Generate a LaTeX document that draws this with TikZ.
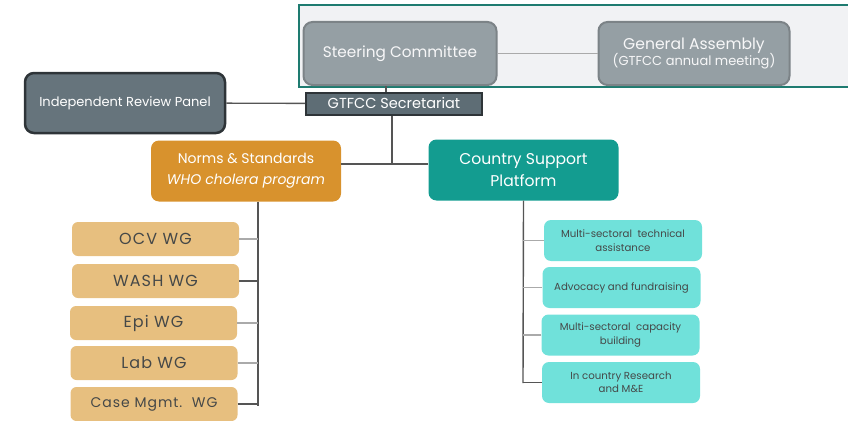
\documentclass[tikz,border=0pt]{standalone}
\usepackage{fontspec}
\setmainfont{Poppins}
\newfontfamily\wgfont[LetterSpace=7]{Poppins}
\definecolor{frameteal}{HTML}{1E7B70}
\definecolor{framebg}{HTML}{F1F2F4}
\definecolor{steergray}{HTML}{959FA4}
\definecolor{steerline}{HTML}{7C8387}
\definecolor{secgray}{HTML}{5E6D75}
\definecolor{darkline}{HTML}{2E3438}
\definecolor{normsorange}{HTML}{D8922D}
\definecolor{cspteal}{HTML}{139C90}
\definecolor{wgtan}{HTML}{E7BF7F}
\definecolor{cspaqua}{HTML}{70E1DA}
\definecolor{textgray}{HTML}{454848}
\definecolor{linkgray}{HTML}{555555}
\definecolor{lightlink}{HTML}{AAAAAA}
\tikzset{
    board/.style={draw=steerline, line width=2pt, fill=steergray, rounded corners=9pt,
        text=white!92!steergray, align=center, minimum height=63pt},
    secbox/.style={draw=darkline, line width=2pt, fill=secgray, text=white,
        minimum width=176pt, minimum height=22pt, inner sep=0pt},
    panel/.style={draw=darkline, line width=2.5pt, fill=secgray!95!white, rounded corners=9pt,
        text=white, minimum width=200pt, minimum height=60pt},
    branch/.style={rounded corners=8pt, text=white, align=center, minimum width=190pt, minimum height=61pt},
    wg/.style={fill=wgtan, rounded corners=6pt, text=textgray, minimum width=167pt, minimum height=34pt, inner sep=0pt},
    task/.style={fill=cspaqua, rounded corners=7pt, text=textgray, align=center, font=\fontsize{10.2}{13.5}\selectfont,
        minimum width=158pt, minimum height=41pt, inner sep=0pt},
    link/.style={draw=linkgray, line width=1.4pt},
    faint/.style={draw=lightlink, line width=1.4pt}
}
\begin{document}
\begin{tikzpicture}[x=1pt, y=-1pt]
    \useasboundingbox (0, 0) rectangle (848, 420);
    \fill[framebg] (299, 5) rectangle (860, 87);
    \draw[frameteal, line width=2pt] (860, 5) -- (299, 5) -- (299, 87) -- (860, 87);

    \draw (400, 53.5) node[board, minimum width=193pt, font=\fontsize{15.3}{17}\selectfont] (steer) {\raisebox{-2pt}{Steering Committee}};
    \draw (694, 53.5) node[board, minimum width=191pt] (assembly) {{\fontsize{15.6}{17}\selectfont General Assembly}\\[-1pt]{\fontsize{13}{15}\selectfont (GTFCC annual meeting)}};
    \draw (394, 103.5) node[secbox, font=\fontsize{14.5}{15}\selectfont] (sec) {GTFCC Secretariat};
    \draw (125, 103) node[panel, font=\fontsize{13}{14}\selectfont] (panel) {Independent Review Panel};
    \draw (246, 171) node[branch, fill=normsorange, font=\fontsize{14}{21}\selectfont] (norms) {Norms \& Standards\\\itshape WHO cholera program};
    \draw (523.5, 170) node[branch, fill=cspteal, font=\fontsize{15.6}{21.5}\selectfont] (csp) {Country Support\\Platform};

    \draw (155.5, 239) node[wg, font=\wgfont\fontsize{16}{18}\selectfont] (ocv) {OCV WG};
    \draw (155.5, 281) node[wg, font=\wgfont\fontsize{16}{18}\selectfont] (wash) {WASH WG};
    \draw (153.5, 323) node[wg, font=\wgfont\fontsize{16}{18}\selectfont] (epi) {Epi WG};
    \draw (154, 363) node[wg, font=\wgfont\fontsize{16}{18}\selectfont] (lab) {Lab WG};
    \draw (154, 404) node[wg, font=\wgfont\fontsize{14}{16}\selectfont] (case) {Case Mgmt.~~WG};

    \draw (623, 240.5) node[task] (techassist) {Multi-sectoral~~technical\\assistance};
    \draw (621.5, 287.5) node[task] (advocacy) {Advocacy and fundraising};
    \draw (620.5, 335) node[task] (capacity) {Multi-sectoral~~capacity\\building};
    \draw (621, 382.5) node[task] (research) {In country Research\\and M\&E};

    \coordinate (hub) at (392, 164);
    \coordinate (wgstem) at (258, 406);
    \coordinate (taskstem) at (523, 383);

    \draw[faint] (steer) -- (assembly);
    \draw[link] (steer.south -| 386, 0) -- (sec.north -| 386, 0);
    \draw[link] (panel) -- (sec);
    \draw[link] (sec.south -| hub) -- (hub);
    \draw[link] (norms.east |- hub) -- (csp.west |- hub);

    \draw[link] (norms.south -| wgstem) -- (wgstem);
    \draw[faint] (ocv) -- (ocv -| wgstem);
    \draw[link] (wash) -- (wash -| wgstem);
    \draw[faint] (epi) -- (epi -| wgstem);
    \draw[faint] (lab) -- (lab -| wgstem);
    \draw[link] (case) -- (case -| wgstem);

    \draw[link] (csp.south) -- (taskstem);
    \draw[faint] (techassist) -- (techassist -| taskstem);
    \draw[faint] (advocacy) -- (advocacy -| taskstem);
    \draw[faint] (capacity) -- (capacity -| taskstem);
    \draw[link] (research) -- (research -| taskstem);
\end{tikzpicture}
\end{document}
